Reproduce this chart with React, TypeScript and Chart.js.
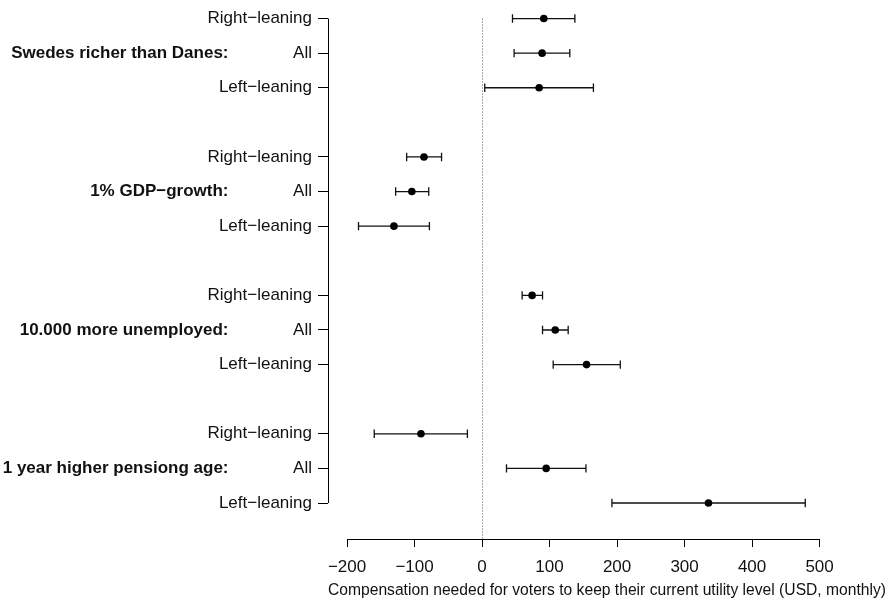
import React, { useEffect, useRef } from "react";
import { Chart, registerables } from "chart.js";

Chart.register(...registerables);

// ---- data ----
const groupLabels = [
  "Swedes richer than Danes:",
  "1% GDP\u2212growth:",
  "10.000 more unemployed:",
  "1 year higher pensiong age:",
];
const subLabels = ["Right\u2212leaning", "All", "Left\u2212leaning"];

// estimates per group: [Right-leaning, All, Left-leaning]
const swedesMean = [91.5, 89, 84.6];
const swedesLow = [45.1, 47.5, 4];
const swedesHigh = [137.5, 130, 165];

const gdpMean = [-86, -104, -130.5];
const gdpLow = [-111.7, -128, -183];
const gdpHigh = [-60, -79, -78];

const unempMean = [74.2, 108.4, 154.8];
const unempLow = [59.4, 89.6, 105.4];
const unempHigh = [89.6, 127.6, 204.8];

const pensionMean = [-90.5, 95, 335.4];
const pensionLow = [-159.7, 36.2, 192.4];
const pensionHigh = [-21.7, 153.9, 478.8];

const xTicks = [-200, -100, 0, 100, 200, 300, 400, 500];
const xTitle =
  "Compensation needed for voters to keep their current utility level (USD, monthly)";

const means = [swedesMean, gdpMean, unempMean, pensionMean];
const lows = [swedesLow, gdpLow, unempLow, pensionLow];
const highs = [swedesHigh, gdpHigh, unempHigh, pensionHigh];

// row index for group g / subgroup s (one blank row between groups)
const rowOf = (g: number, s: number) => g * 4 + s;

const FONT = "'Liberation Sans', Arial, Helvetica, sans-serif";

const noPad = (s: any) => {
  s.paddingTop = 0;
  s.paddingBottom = 0;
  s.paddingLeft = 0;
  s.paddingRight = 0;
};

export default function App() {
  const ref = useRef<HTMLCanvasElement | null>(null);

  useEffect(() => {
    if (!ref.current) return;

    const points: { x: number; y: number; lo: number; hi: number }[] = [];
    const rowLabels: Record<number, string> = {};
    means.forEach((arr, g) => {
      arr.forEach((m, s) => {
        const r = rowOf(g, s);
        points.push({ x: m, y: r, lo: lows[g][s], hi: highs[g][s] });
        rowLabels[r] = subLabels[s];
      });
    });
    const rowValues = Object.keys(rowLabels).map(Number);
    const firstRow = Math.min(...rowValues);
    const lastRow = Math.max(...rowValues);

    const overlay = {
      id: "overlay",
      beforeDatasetsDraw(chart: any) {
        const { ctx, chartArea, scales } = chart;
        const x = scales.x;
        const y = scales.y;
        ctx.save();
        // dotted zero reference line
        const x0 = Math.round(x.getPixelForValue(0)) + 0.5;
        ctx.strokeStyle = "#555";
        ctx.lineWidth = 1;
        ctx.setLineDash([1, 2]);
        ctx.beginPath();
        ctx.moveTo(x0, y.getPixelForValue(firstRow));
        ctx.lineTo(x0, chartArea.bottom);
        ctx.stroke();
        ctx.setLineDash([]);

        // error bars
        ctx.strokeStyle = "#111";
        ctx.lineWidth = 1.3;
        points.forEach((p) => {
          const py = y.getPixelForValue(p.y);
          const xl = x.getPixelForValue(p.lo);
          const xh = x.getPixelForValue(p.hi);
          ctx.beginPath();
          ctx.moveTo(xl, py);
          ctx.lineTo(xh, py);
          ctx.moveTo(xl, py - 4.2);
          ctx.lineTo(xl, py + 4.2);
          ctx.moveTo(xh, py - 4.2);
          ctx.lineTo(xh, py + 4.2);
          ctx.stroke();
        });

        // axis lines (R style, spanning first to last tick)
        ctx.strokeStyle = "#000";
        ctx.lineWidth = 1;
        const by = Math.round(chartArea.bottom) + 0.5;
        ctx.beginPath();
        ctx.moveTo(x.getPixelForValue(xTicks[0]), by);
        ctx.lineTo(x.getPixelForValue(xTicks[xTicks.length - 1]), by);
        ctx.stroke();
        const lx = Math.round(chartArea.left) + 0.5;
        ctx.beginPath();
        ctx.moveTo(lx, y.getPixelForValue(firstRow));
        ctx.lineTo(lx, y.getPixelForValue(lastRow));
        ctx.stroke();

        // group labels
        ctx.fillStyle = "#111";
        ctx.font = `bold 17px ${FONT}`;
        ctx.textAlign = "right";
        ctx.textBaseline = "middle";
        groupLabels.forEach((lab, g) => {
          ctx.fillText(lab, 228.5, y.getPixelForValue(rowOf(g, 1)));
        });
        ctx.restore();
      },
    };

    const chart = new Chart(ref.current, {
      type: "scatter",
      data: {
        datasets: [
          {
            data: points.map((p) => ({ x: p.x, y: p.y })),
            backgroundColor: "#000",
            borderColor: "#000",
            pointRadius: 3.8,
            pointBorderWidth: 0,
          },
        ],
      },
      options: {
        responsive: false,
        animation: false,
        layout: { padding: { left: 0, right: 5, top: 0, bottom: 0 } },
        plugins: {
          legend: { display: false },
          tooltip: { enabled: false },
        },
        scales: {
          x: {
            type: "linear",
            min: -228.2,
            max: 598.4,
            afterFit: (s: any) => {
              s.height = 61;
              noPad(s);
            },
            afterBuildTicks: (s: any) => {
              s.ticks = xTicks.map((v) => ({ value: v }));
            },
            grid: {
              display: true,
              drawOnChartArea: false,
              drawTicks: true,
              tickLength: 8,
              color: "#000",
              lineWidth: 1,
            },
            border: { display: false },
            ticks: {
              color: "#111",
              font: { size: 17, family: FONT },
              padding: 10,
              maxRotation: 0,
              autoSkip: false,
              callback: (v: any) => String(v).replace("-", "\u2212"),
            },
            title: {
              display: true,
              text: xTitle,
              color: "#111",
              font: { size: 16.8, family: FONT },
              padding: { top: 0, bottom: 0 },
            },
          },
          y: {
            type: "linear",
            reverse: true,
            min: -0.42,
            max: 15.04,
            afterFit: (s: any) => {
              s.width = 328;
              noPad(s);
            },
            afterBuildTicks: (s: any) => {
              s.ticks = rowValues.map((v) => ({ value: v }));
            },
            grid: {
              display: true,
              drawOnChartArea: false,
              drawTicks: true,
              tickLength: 10,
              color: "#000",
              lineWidth: 1,
            },
            border: { display: false },
            ticks: {
              color: "#111",
              font: { size: 17, family: FONT },
              padding: 6,
              autoSkip: false,
              callback: (v: any) => rowLabels[v] ?? "",
            },
          },
        },
      },
      plugins: [overlay],
    });

    return () => chart.destroy();
  }, []);

  return (
    <div style={{ position: "absolute", left: 0, top: 0, width: 891, height: 600 }}>
      <canvas
        ref={ref}
        width={891}
        height={600}
        style={{ display: "block", width: 891, height: 600, background: "#fff" }}
      />
    </div>
  );
}
